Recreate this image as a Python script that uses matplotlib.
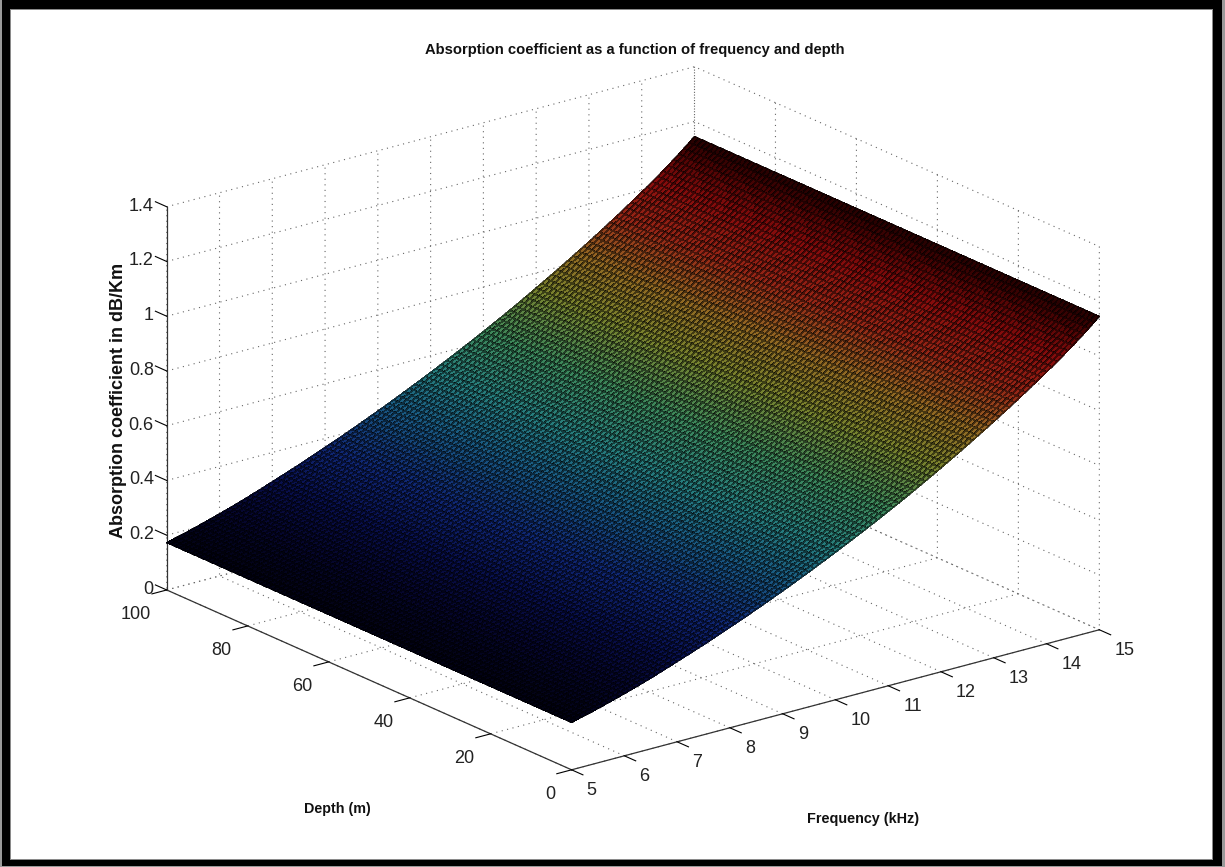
import numpy as np
import matplotlib
matplotlib.use('Agg')
import matplotlib.pyplot as plt
from matplotlib.colors import LinearSegmentedColormap
from matplotlib.patches import Rectangle
from mpl_toolkits.mplot3d import proj3d

# ---- data ----
frequency_khz = np.arange(5, 15.05, 0.1)
absorption_db_km = [
    .1730, .1779, .1829, .1880, .1932, .1985, .2040, .2096, .2153, .2211,
    .2270, .2330, .2391, .2453, .2517, .2582, .2649, .2717, .2787, .2858,
    .2930, .3000, .3071, .3143, .3216, .3290, .3364, .3439, .3515, .3592,
    .3670, .3748, .3827, .3907, .3988, .4070, .4152, .4235, .4319, .4404,
    .4490, .4576, .4663, .4751, .4840, .4930, .5020, .5111, .5203, .5296,
    .5390, .5484, .5579, .5675, .5772, .5870, .5968, .6067, .6167, .6268,
    .6370, .6473, .6577, .6682, .6788, .6895, .7004, .7114, .7225, .7337,
    .7450, .7563, .7677, .7792, .7908, .8025, .8144, .8264, .8385, .8507,
    .8630, .8754, .8879, .9006, .9134, .9263, .9394, .9526, .9659, .9794,
    .9930, 1.0067, 1.0207, 1.0350, 1.0496, 1.0646, 1.0800, 1.0957, 1.1117, 1.1280,
    1.1450]
depth_m = np.arange(0, 101, 1)
freq_ticks = [5, 6, 7, 8, 9, 10, 11, 12, 13, 14, 15]
depth_ticks = [0, 20, 40, 60, 80, 100]
alpha_ticks = [0, .2, .4, .6, .8, 1, 1.2, 1.4]
alpha_tick_labels = ['0', '0.2', '0.4', '0.6', '0.8', '1', '1.2', '1.4']

title_text = 'Absorption coefficient as a function of frequency and depth'
depth_label = 'Depth (m)'
freq_label = 'Frequency (kHz)'
alpha_label = 'Absorption coefficient in dB/Km'

# ---- style ----
W, H = 1225, 867
plt.rcParams.update({'font.family': 'Liberation Sans', 'grid.color': '#666666', 'grid.linewidth': 0.8,
                     'grid.linestyle': (0, (1, 4)), 'axes3d.grid': True})
tick_size = 13

stops = [(0.00, (2, 2, 20)), (0.06, (5, 6, 45)), (0.12, (8, 14, 75)), (0.20, (15, 38, 115)),
         (0.30, (25, 90, 130)), (0.38, (38, 125, 125)), (0.48, (60, 135, 90)), (0.59, (120, 130, 45)),
         (0.68, (145, 105, 35)), (0.78, (150, 38, 22)), (0.88, (135, 12, 12)), (0.95, (80, 4, 4)), (1.00, (35, 0, 0))]
cmap = LinearSegmentedColormap.from_list('shaded_jet', [(t, tuple(v/255 for v in c)) for t, c in stops])

fig = plt.figure(figsize=(W/100, H/100), dpi=100, facecolor='white')

# picture frame
for (x, y, w, h, c) in [(0, 0, W, H, '#9a9a9a'), (2, 0, W-5, H-1, 'black'), (10, 9, 1203, 851, '#8a8a8a'),
                        (11, 10, 1201, 849, 'white')]:
    fig.add_artist(Rectangle((x/W, 1-(y+h)/H), w/W, h/H, transform=fig.transFigure, fc=c, ec='none', zorder=-10))

ax = fig.add_axes([0, 0, 1, 1], projection='3d', proj_type='ortho')
ax.patch.set_alpha(0)
ax.set_xlim(5, 15)
ax.set_ylim(0, 100)
ax.set_zlim(0, 1.4)
ax.view_init(elev=20.08, azim=-127.7)

F, D = np.meshgrid(frequency_khz, depth_m)
Z = np.tile(absorption_db_km, (len(depth_m), 1))
surf = ax.plot_surface(F, D, Z, rstride=1, cstride=1, cmap=cmap, vmin=.173, vmax=1.145, shade=False,
                       linewidth=0.4, edgecolor=(0, 0, 0, 0.5), antialiased=False)
surf.set_clip_on(False)

ax.set_xticks(freq_ticks)
ax.set_yticks(depth_ticks)
ax.set_zticks(alpha_ticks)
ax.set_xticklabels([str(v) for v in freq_ticks])
ax.set_yticklabels([str(v) for v in depth_ticks])
ax.set_zticklabels(alpha_tick_labels)
ax.tick_params(axis='x', labelsize=tick_size, labelcolor='#222222', pad=4)
ax.tick_params(axis='y', labelsize=tick_size, labelcolor='#222222', pad=2)
ax.tick_params(axis='z', labelsize=tick_size, labelcolor='#222222', pad=-3.5)
ax.zaxis.set_ticks_position('upper')
ax.zaxis.set_label_position('upper')
ax.zaxis._get_tickdir = lambda pos: 1
for a in (ax.xaxis, ax.yaxis, ax.zaxis):
    a.set_pane_color((1, 1, 1, 0))
    a.pane.set_edgecolor('none')
    a.line.set_color('#333333')
    a.line.set_linewidth(0.9)
    a._axinfo['tick'].update(inward_factor=0.35, outward_factor=0.0)
    a._axinfo['tick']['linewidth'] = {True: 0.8, False: 0.8}
    a._axinfo['tick']['color'] = '#333333'
ax.zaxis._axinfo['tick'].update(inward_factor=0.0, outward_factor=0.35)
for t in ax.get_xticklabels():
    t.set_ha('left')
    t.set_va('center')
for t in ax.get_yticklabels():
    t.set_ha('right')
for t in ax.get_zticklabels():
    t.set_ha('right')
    t.set_va('center')

# fit the orthographic box on the reference corners
corners_data = [(5, 0, 0), (15, 0, 0), (5, 100, 0), (5, 100, 1.4)]
corners_px = np.array([(571.7, H-767.3), (1099.3, H-631), (166.7, H-590.7), (166.7, H-207.3)])
zoom = 1.0
def project():
    ax.apply_aspect()
    M = ax.get_proj()
    pts = [proj3d.proj_transform(*c, M)[:2] for c in corners_data]
    return ax.transData.transform(pts)
for _ in range(4):
    ax.set_box_aspect((667, 662, 408), zoom=zoom)
    p = project()
    zoom *= (corners_px[1, 0]-corners_px[2, 0]) / (p[1, 0]-p[2, 0])
ax.set_box_aspect((667, 662, 408), zoom=zoom)
p = project()
dx, dy = (corners_px - p).mean(axis=0)
ax.set_position([dx/W, dy/H, 1, 1])

fig.text(635/W, 1-50/H, title_text, fontsize=10.6, fontweight='bold', ha='center', va='center', color='#111111')
fig.text(337/W, 1-809/H, depth_label, fontsize=10.3, fontweight='bold', ha='center', va='center', color='#111111')
fig.text(863/W, 1-819/H, freq_label, fontsize=10.4, fontweight='bold', ha='center', va='center', color='#111111')
fig.text(119/W, 1-400/H, alpha_label, fontsize=13, fontweight='bold', rotation=90,
         ha='center', va='center', color='#111111')

fig.savefig('out.png', dpi=100, facecolor='white')
